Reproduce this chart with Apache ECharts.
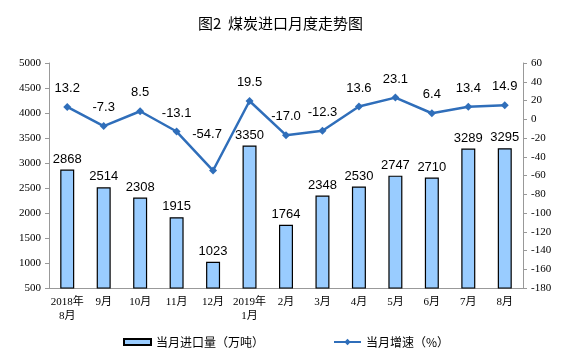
<!DOCTYPE html>
<html><head><meta charset="utf-8">
<script src="https://cdn.jsdelivr.net/npm/echarts@6/dist/echarts.min.js"></script>
<style>html,body{margin:0;padding:0;background:#fff}#c{width:561px;height:357px}</style>
</head><body><div id="c"></div>
<script>
var categories = ['2018年\n8月','9月','10月','11月','12月','2019年\n1月','2月','3月','4月','5月','6月','7月','8月'];
var imports = [2868, 2514, 2308, 1915, 1023, 3350, 1764, 2348, 2530, 2747, 2710, 3289, 3295];
var growth = [13.2, -7.3, 8.5, -13.1, -54.7, 19.5, -17.0, -12.3, 13.6, 23.1, 6.4, 13.4, 14.9];
var serif = "'Liberation Serif','Noto Sans CJK SC',serif";
var sans = "'Liberation Sans',Arial,'Noto Sans CJK SC',sans-serif";
var cjk = "'Noto Sans CJK SC',sans-serif";
var legText = {fontSize: 12, color: '#000', fontFamily: cjk};
var growthData = growth.map(function(v, i){
  return i === 4 ? {value: v, label: {offset: [-6, -18]}} : v;
});
var chart = echarts.init(document.getElementById('c'));
chart.setOption({
  animation: false,
  title: {text: '图2  煤炭进口月度走势图', left: 'center', top: 11,
    textStyle: {fontSize: 15, fontWeight: 'normal', color: '#000', fontFamily: cjk}},
  legend: [
    {left: 118, top: 331, itemWidth: 27, itemHeight: 6, itemGap: 2, textStyle: legText,
      data: [{name: '当月进口量（万吨）', icon: 'rect'}]},
    {left: 328, top: 331, itemWidth: 27, itemHeight: 8, itemGap: 2, textStyle: legText,
      data: [{name: '当月增速（%）'}]}
  ],
  grid: {left: 49, right: 38, top: 63, bottom: 69},
  xAxis: {type: 'category', data: categories,
    axisLine: {onZero: false, lineStyle: {color: '#999'}},
    axisTick: {inside: true, length: 3, lineStyle: {color: '#999'}},
    axisLabel: {color: '#000', fontSize: 11, fontFamily: serif, interval: 0, lineHeight: 14, margin: 7}},
  yAxis: [
    {type: 'value', min: 500, max: 5000, interval: 500,
      axisLine: {show: true, lineStyle: {color: '#999'}},
      axisTick: {show: true, length: 4, lineStyle: {color: '#999'}},
      splitLine: {show: false},
      axisLabel: {color: '#000', fontSize: 11, fontFamily: serif, margin: 8, formatter: function(v){return String(v);}}},
    {type: 'value', min: -180, max: 60, interval: 20,
      axisLine: {show: true, lineStyle: {color: '#999'}},
      axisTick: {show: true, length: 4, lineStyle: {color: '#999'}},
      splitLine: {show: false},
      axisLabel: {color: '#000', fontSize: 11, fontFamily: serif, margin: 8, formatter: function(v){return String(v);}}}
  ],
  series: [
    {name: '当月进口量（万吨）', type: 'bar', data: imports, barWidth: 14,
      itemStyle: {color: '#99CCFF', borderColor: '#000', borderWidth: 1.2},
      label: {show: true, position: 'top', color: '#000', fontSize: 13, fontFamily: sans, distance: 4}},
    {name: '当月增速（%）', type: 'line', yAxisIndex: 1, data: growthData,
      symbol: 'diamond', symbolSize: 8,
      lineStyle: {color: '#2F6EBA', width: 2.5},
      itemStyle: {color: '#2F6EBA'},
      label: {show: true, position: 'top', color: '#000', fontSize: 13, fontFamily: sans, distance: 8,
        formatter: function(p){ return Number(p.value).toFixed(1); }}}
  ]
});
</script></body></html>
